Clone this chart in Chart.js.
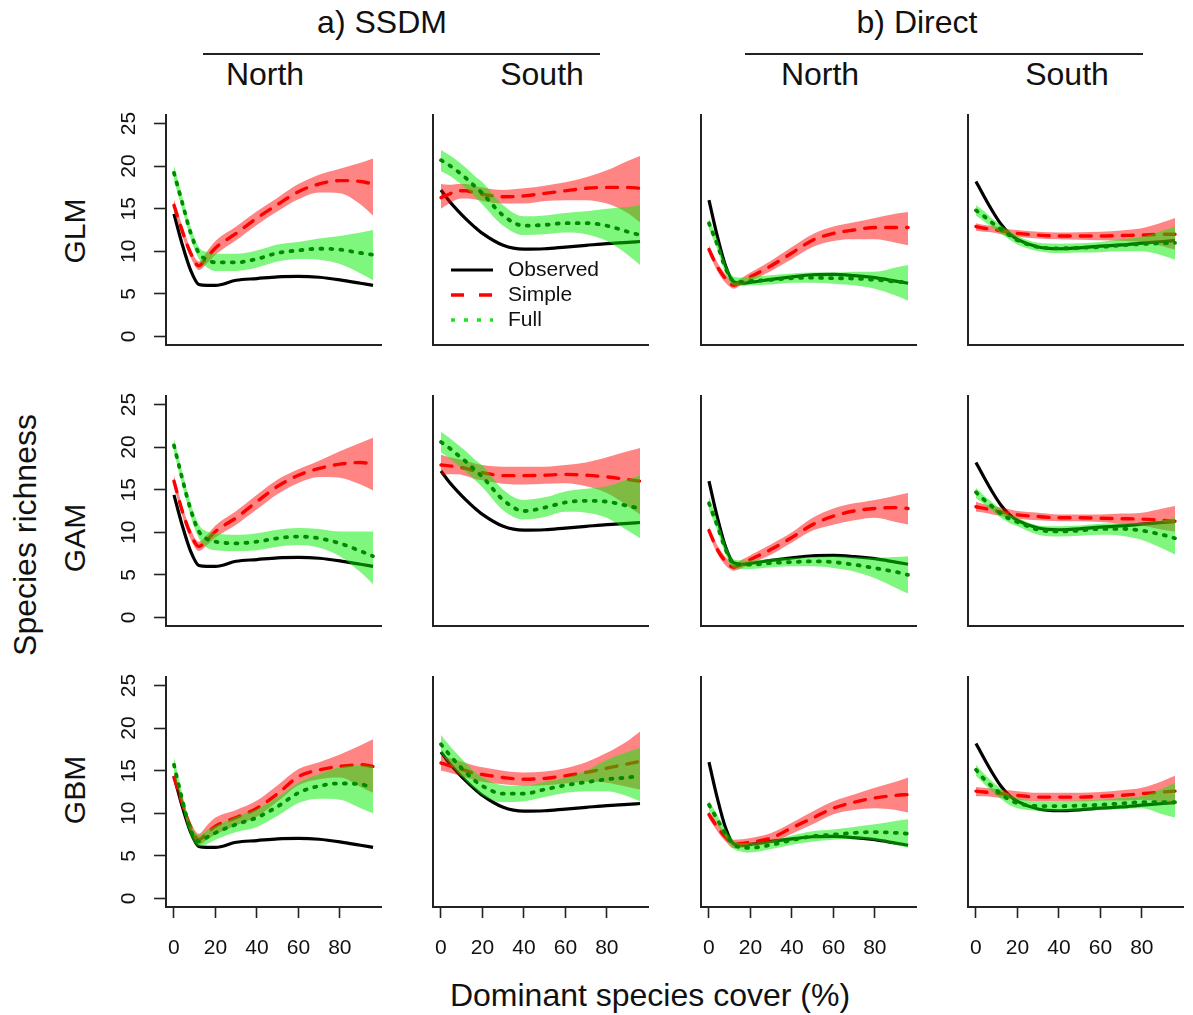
<!DOCTYPE html>
<html>
<head>
<meta charset="utf-8">
<script src="https://cdn.jsdelivr.net/npm/chart.js@4.4.0/dist/chart.umd.min.js"></script>
<style>
  body { margin: 0; background: #fff; }
  #wrap { position: relative; width: 1193px; height: 1015px; overflow: hidden;
          font-family: "Liberation Sans", Arial, sans-serif; color: #111; }
  #wrap canvas { position: absolute; }
  .t { position: absolute; white-space: nowrap; transform: translate(-50%, -50%); line-height: 1; }
  .rot { transform: translate(-50%, -50%) rotate(-90deg); }
  .rule { position: absolute; height: 0; border-top: 2px solid #222; }
</style>
</head>
<body>
<div id="wrap"></div>
<script>
// x positions (dominant species cover, %) shared by every curve
const cover = [0, 4, 8, 12, 16, 20, 30, 40, 50, 60, 70, 80, 90, 96];
const xTicks = [0, 20, 40, 60, 80];
const yTicks = [0, 5, 10, 15, 20, 25];
const models = ['GLM', 'GAM', 'GBM'];
const regions = ['North', 'South', 'North', 'South'];
const groups = ['a) SSDM', 'b) Direct'];
const seriesNames = ['Observed', 'Simple', 'Full'];

// observed richness, one per column
const obsSsdmNorth = [14.4, 10.8, 7.8, 6.1, 6.0, 6.0, 6.6, 6.8, 7.0, 7.05, 6.95, 6.65, 6.25, 6.0];
const obsSsdmSouth = [17.2, 15.9, 14.8, 13.8, 12.9, 12.1, 10.7, 10.25, 10.3, 10.5, 10.7, 10.9, 11.05, 11.15];
const obsDirectNorth = [16.0, 11.8, 8.3, 6.4, 6.25, 6.35, 6.7, 7.0, 7.25, 7.3, 7.15, 6.9, 6.5, 6.25];
const obsDirectSouth = [18.2, 16.4, 14.7, 13.2, 12.1, 11.4, 10.5, 10.3, 10.4, 10.6, 10.75, 10.95, 11.15, 11.25];

// GLM
const glmSsdmNorthSimple = [15.4, 12.4, 9.8, 8.3, 9.3, 10.4, 12.1, 13.9, 15.5, 17.0, 17.9, 18.3, 18.2, 17.9];
const glmSsdmNorthSimpleLo = [14.7, 11.8, 9.3, 7.8, 8.6, 9.6, 11.3, 13.1, 14.7, 16.1, 16.9, 16.8, 15.5, 14.2];
const glmSsdmNorthSimpleHi = [16.1, 13.0, 10.3, 8.8, 10.0, 11.2, 12.9, 14.7, 16.3, 17.9, 19.0, 19.7, 20.4, 20.9];
const glmSsdmNorthFull = [19.2, 15.7, 12.2, 9.8, 9.0, 8.7, 8.7, 9.1, 9.8, 10.1, 10.3, 10.2, 9.8, 9.6];
const glmSsdmNorthFullLo = [18.3, 14.9, 11.5, 9.1, 8.1, 7.7, 7.7, 8.1, 8.8, 9.1, 9.0, 8.5, 7.4, 6.6];
const glmSsdmNorthFullHi = [20.1, 16.5, 12.9, 10.5, 9.9, 9.7, 9.7, 10.1, 10.8, 11.1, 11.5, 11.8, 12.2, 12.5];

const glmSsdmSouthSimple = [16.3, 16.7, 17.1, 17.1, 16.9, 16.7, 16.4, 16.5, 16.8, 17.1, 17.4, 17.5, 17.5, 17.4];
const glmSsdmSouthSimpleLo = [15.0, 15.6, 16.1, 16.2, 16.1, 15.9, 15.6, 15.6, 15.9, 16.0, 16.0, 15.6, 14.5, 13.4];
const glmSsdmSouthSimpleHi = [17.9, 17.8, 17.9, 17.9, 17.7, 17.5, 17.2, 17.4, 17.7, 18.1, 18.7, 19.5, 20.6, 21.2];
const glmSsdmSouthFull = [20.7, 20.1, 19.4, 18.6, 17.7, 16.8, 14.2, 13.0, 13.1, 13.3, 13.3, 13.0, 12.3, 11.9];
const glmSsdmSouthFullLo = [19.4, 18.9, 18.2, 17.4, 16.5, 15.5, 13.0, 11.9, 12.0, 12.2, 12.0, 11.2, 9.6, 8.4];
const glmSsdmSouthFullHi = [21.9, 21.3, 20.6, 19.8, 18.9, 18.1, 15.4, 14.1, 14.2, 14.5, 14.7, 15.0, 15.2, 15.4];

const glmDirectNorthSimple = [10.2, 8.2, 6.8, 6.0, 6.5, 7.0, 8.3, 9.8, 11.3, 12.1, 12.5, 12.8, 12.8, 12.8];
const glmDirectNorthSimpleLo = [9.7, 7.7, 6.3, 5.6, 6.1, 6.5, 7.7, 9.1, 10.5, 11.2, 11.4, 11.4, 11.0, 10.7];
const glmDirectNorthSimpleHi = [10.7, 8.7, 7.3, 6.4, 6.9, 7.5, 8.9, 10.5, 12.0, 12.9, 13.4, 13.9, 14.4, 14.6];
const glmDirectNorthFull = [13.3, 10.8, 8.0, 6.5, 6.4, 6.5, 6.65, 6.85, 6.9, 6.85, 6.8, 6.65, 6.45, 6.35];
const glmDirectNorthFullLo = [12.6, 10.2, 7.4, 6.0, 5.9, 6.0, 6.1, 6.3, 6.3, 6.2, 6.0, 5.6, 4.8, 4.2];
const glmDirectNorthFullHi = [13.9, 11.4, 8.6, 7.0, 6.9, 7.0, 7.2, 7.4, 7.5, 7.5, 7.6, 7.6, 8.1, 8.4];

const glmDirectSouthSimple = [12.9, 12.7, 12.6, 12.4, 12.2, 12.1, 11.9, 11.8, 11.8, 11.8, 11.85, 11.9, 12.0, 12.0];
const glmDirectSouthSimpleLo = [12.4, 12.3, 12.2, 12.0, 11.8, 11.7, 11.5, 11.4, 11.35, 11.3, 11.25, 11.1, 10.6, 10.2];
const glmDirectSouthSimpleHi = [13.3, 13.1, 13.0, 12.8, 12.6, 12.5, 12.3, 12.2, 12.25, 12.3, 12.45, 12.7, 13.4, 13.9];
const glmDirectSouthFull = [14.8, 14.1, 13.3, 12.6, 11.9, 11.3, 10.5, 10.35, 10.4, 10.5, 10.7, 10.85, 10.95, 11.0];
const glmDirectSouthFullLo = [14.2, 13.5, 12.8, 12.1, 11.4, 10.8, 10.0, 9.8, 9.85, 9.9, 10.0, 10.0, 9.5, 9.0];
const glmDirectSouthFullHi = [15.4, 14.7, 13.8, 13.1, 12.4, 11.8, 11.0, 10.9, 10.95, 11.1, 11.4, 11.7, 12.4, 12.9];

// GAM
const gamSsdmNorthSimple = [16.0, 12.5, 9.8, 8.35, 9.1, 10.1, 11.7, 13.6, 15.4, 16.7, 17.5, 18.0, 18.2, 18.0];
const gamSsdmNorthSimpleLo = [15.3, 11.9, 9.2, 7.8, 8.5, 9.4, 10.9, 12.7, 14.5, 15.8, 16.5, 16.4, 15.6, 14.9];
const gamSsdmNorthSimpleHi = [16.7, 13.1, 10.4, 8.9, 9.7, 10.8, 12.5, 14.4, 16.2, 17.4, 18.4, 19.5, 20.5, 21.1];
const gamSsdmNorthFull = [20.2, 16.3, 12.7, 10.1, 9.2, 8.9, 8.7, 8.9, 9.3, 9.5, 9.3, 8.7, 7.8, 7.2];
const gamSsdmNorthFullLo = [19.4, 15.5, 11.9, 9.3, 8.2, 7.9, 7.8, 7.9, 8.3, 8.5, 8.2, 7.2, 5.3, 3.9];
const gamSsdmNorthFullHi = [21.0, 17.1, 13.5, 10.9, 10.1, 9.9, 9.7, 9.9, 10.3, 10.5, 10.4, 10.1, 10.1, 10.1];

const gamSsdmSouthSimple = [17.9, 17.8, 17.7, 17.5, 17.2, 17.0, 16.65, 16.65, 16.7, 16.8, 16.7, 16.5, 16.2, 16.0];
const gamSsdmSouthSimpleLo = [16.7, 16.8, 16.8, 16.6, 16.3, 16.1, 15.7, 15.6, 15.7, 15.75, 15.4, 14.6, 13.1, 12.1];
const gamSsdmSouthSimpleHi = [19.1, 18.8, 18.6, 18.4, 18.1, 17.9, 17.7, 17.7, 17.7, 17.9, 18.2, 18.8, 19.5, 19.9];
const gamSsdmSouthFull = [20.6, 19.9, 19.1, 18.3, 17.4, 16.5, 13.8, 12.5, 12.9, 13.5, 13.7, 13.6, 13.1, 12.8];
const gamSsdmSouthFullLo = [19.4, 18.7, 17.9, 17.1, 16.2, 15.3, 12.6, 11.5, 11.8, 12.4, 12.3, 11.7, 10.2, 9.3];
const gamSsdmSouthFullHi = [21.8, 21.1, 20.3, 19.5, 18.6, 17.8, 15.0, 13.8, 14.1, 14.8, 15.1, 15.4, 16.2, 16.7];

const gamDirectNorthSimple = [10.2, 8.0, 6.6, 5.9, 6.3, 6.8, 8.0, 9.4, 10.9, 11.9, 12.5, 12.8, 12.9, 12.8];
const gamDirectNorthSimpleLo = [9.7, 7.5, 6.1, 5.5, 5.8, 6.3, 7.4, 8.8, 10.2, 10.9, 11.4, 11.7, 11.2, 10.9];
const gamDirectNorthSimpleHi = [10.7, 8.5, 7.1, 6.3, 6.8, 7.3, 8.6, 10.0, 11.7, 12.8, 13.4, 13.8, 14.3, 14.6];
const gamDirectNorthFull = [13.4, 10.8, 8.0, 6.3, 6.2, 6.2, 6.4, 6.5, 6.6, 6.5, 6.2, 5.8, 5.35, 5.0];
const gamDirectNorthFullLo = [12.6, 10.2, 7.4, 5.8, 5.7, 5.7, 5.9, 6.0, 6.0, 5.8, 5.4, 4.6, 3.5, 2.8];
const gamDirectNorthFullHi = [14.2, 11.4, 8.6, 6.8, 6.7, 6.7, 6.9, 7.0, 7.1, 7.2, 7.1, 7.0, 7.1, 7.2];

const gamDirectSouthSimple = [13.0, 12.8, 12.6, 12.4, 12.2, 12.05, 11.85, 11.7, 11.7, 11.65, 11.6, 11.55, 11.4, 11.3];
const gamDirectSouthSimpleLo = [12.4, 12.3, 12.1, 11.9, 11.7, 11.6, 11.4, 11.3, 11.3, 11.2, 11.0, 10.8, 10.3, 10.1];
const gamDirectSouthSimpleHi = [13.6, 13.3, 13.1, 12.9, 12.7, 12.5, 12.3, 12.1, 12.1, 12.1, 12.2, 12.3, 12.8, 13.1];
const gamDirectSouthFull = [14.7, 13.8, 13.0, 12.2, 11.6, 11.2, 10.3, 10.1, 10.2, 10.4, 10.4, 10.2, 9.7, 9.3];
const gamDirectSouthFullLo = [14.0, 13.3, 12.5, 11.7, 11.1, 10.7, 9.7, 9.5, 9.6, 9.7, 9.6, 9.1, 8.1, 7.4];
const gamDirectSouthFullHi = [15.2, 14.3, 13.5, 12.7, 12.1, 11.7, 10.8, 10.7, 10.8, 11.0, 11.1, 11.1, 11.4, 11.7];

// GBM
const gbmSsdmNorthSimple = [14.2, 11.2, 8.4, 6.9, 7.7, 8.5, 9.5, 10.6, 12.3, 14.3, 15.1, 15.5, 15.7, 15.5];
const gbmSsdmNorthSimpleLo = [13.6, 10.6, 7.8, 6.3, 6.9, 7.5, 8.6, 9.6, 11.4, 13.3, 14.0, 14.2, 13.1, 12.4];
const gbmSsdmNorthSimpleHi = [14.8, 11.8, 9.0, 7.6, 8.6, 9.5, 10.4, 11.5, 13.3, 15.2, 16.0, 16.9, 18.0, 18.7];
const gbmSsdmNorthFull = [15.7, 11.6, 8.1, 6.7, 7.2, 7.7, 8.7, 9.5, 10.8, 12.4, 13.2, 13.5, 13.4, 13.0];
const gbmSsdmNorthFullLo = [14.8, 10.9, 7.4, 6.1, 6.4, 6.9, 7.8, 8.4, 9.7, 11.2, 11.7, 11.6, 10.6, 10.0];
const gbmSsdmNorthFullHi = [16.6, 12.3, 8.8, 7.4, 8.0, 8.5, 9.6, 10.5, 11.9, 13.6, 14.6, 15.4, 15.6, 15.5];

const gbmSsdmSouthSimple = [15.9, 15.6, 15.3, 15.0, 14.7, 14.55, 14.2, 14.0, 14.1, 14.4, 14.8, 15.3, 15.8, 16.1];
const gbmSsdmSouthSimpleLo = [15.0, 14.8, 14.5, 14.2, 13.9, 13.7, 13.4, 13.2, 13.3, 13.5, 13.7, 13.6, 13.1, 12.8];
const gbmSsdmSouthSimpleHi = [16.8, 16.5, 16.2, 15.9, 15.6, 15.4, 15.0, 14.8, 14.9, 15.3, 16.0, 17.1, 18.5, 19.6];
const gbmSsdmSouthFull = [18.1, 16.9, 15.8, 14.8, 13.9, 13.2, 12.3, 12.3, 12.8, 13.3, 13.65, 14.0, 14.2, 14.4];
const gbmSsdmSouthFullLo = [17.0, 15.9, 14.8, 13.8, 12.9, 12.1, 11.3, 11.4, 11.9, 12.4, 12.6, 12.6, 12.0, 11.4];
const gbmSsdmSouthFullHi = [19.2, 18.0, 16.9, 15.9, 14.9, 14.2, 13.3, 13.2, 13.7, 14.2, 15.0, 16.3, 17.2, 17.7];

const gbmDirectNorthSimple = [9.85, 8.4, 7.2, 6.4, 6.45, 6.6, 7.1, 8.3, 9.45, 10.6, 11.3, 11.8, 12.1, 12.2];
const gbmDirectNorthSimpleLo = [9.4, 7.9, 6.7, 5.9, 5.95, 6.1, 6.5, 7.6, 8.7, 9.9, 10.4, 10.6, 10.4, 10.1];
const gbmDirectNorthSimpleHi = [10.3, 8.9, 7.7, 6.9, 6.95, 7.1, 7.7, 8.9, 10.2, 11.4, 12.2, 13.0, 13.7, 14.2];
const gbmDirectNorthFull = [11.0, 9.3, 7.6, 6.3, 6.0, 5.95, 6.3, 6.85, 7.3, 7.5, 7.7, 7.8, 7.7, 7.6];
const gbmDirectNorthFullLo = [10.4, 8.8, 7.1, 5.8, 5.5, 5.4, 5.8, 6.3, 6.7, 6.9, 7.0, 6.8, 6.3, 5.95];
const gbmDirectNorthFullHi = [11.5, 9.8, 8.1, 6.8, 6.5, 6.5, 6.8, 7.4, 7.9, 8.1, 8.4, 8.7, 9.1, 9.3];

const gbmDirectSouthSimple = [12.6, 12.5, 12.4, 12.3, 12.2, 12.1, 11.9, 11.9, 11.9, 12.0, 12.1, 12.3, 12.5, 12.6];
const gbmDirectSouthSimpleLo = [12.0, 12.0, 11.9, 11.8, 11.7, 11.6, 11.4, 11.4, 11.4, 11.5, 11.5, 11.6, 11.3, 11.0];
const gbmDirectSouthSimpleHi = [13.1, 13.0, 12.9, 12.8, 12.7, 12.6, 12.4, 12.4, 12.4, 12.5, 12.7, 13.0, 13.8, 14.4];
const gbmDirectSouthFull = [15.1, 14.0, 13.1, 12.3, 11.6, 11.2, 10.85, 10.85, 10.9, 11.0, 11.15, 11.3, 11.3, 11.3];
const gbmDirectSouthFullLo = [14.4, 13.4, 12.5, 11.7, 11.0, 10.6, 10.3, 10.25, 10.3, 10.4, 10.5, 10.6, 9.9, 9.5];
const gbmDirectSouthFullHi = [15.7, 14.6, 13.7, 12.9, 12.2, 11.8, 11.4, 11.4, 11.5, 11.6, 11.8, 12.0, 12.9, 13.6];

// ---- layout ----
const family = '"Liberation Sans", Arial, sans-serif';
const colLeft = [166, 433, 701, 968];
const rowTop = [115, 396, 677];
const boxW = 215, boxH = 230;

const wrap = document.getElementById('wrap');

function addText(txt, x, y, size, rotated) {
    const el = document.createElement('div');
    el.className = rotated ? 't rot' : 't';
    el.textContent = txt;
    el.style.left = x + 'px';
    el.style.top = y + 'px';
    el.style.fontSize = size + 'px';
    wrap.appendChild(el);
}

function addRule(x1, x2, y) {
    const el = document.createElement('div');
    el.className = 'rule';
    el.style.left = x1 + 'px';
    el.style.width = (x2 - x1) + 'px';
    el.style.top = y + 'px';
    wrap.appendChild(el);
}

const pts = arr => cover.map((x, i) => ({ x: x, y: arr[i] }));

// rotated y tick labels, as R draws them
const yTickLabels = {
    id: 'yTickLabels',
    afterDraw(chart, args, opts) {
        if (!opts.show) return;
        const { ctx, chartArea } = chart;
        const y = chart.scales.y;
        ctx.save();
        ctx.font = '21px ' + family;
        ctx.fillStyle = '#111';
        ctx.textAlign = 'center';
        ctx.textBaseline = 'middle';
        y.ticks.forEach(t => {
            ctx.save();
            ctx.translate(chartArea.left - 37, y.getPixelForValue(t.value));
            ctx.rotate(-Math.PI / 2);
            ctx.fillText(String(t.value), 0, 0);
            ctx.restore();
        });
        ctx.restore();
    }
};

// legend drawn inside one panel
const panelLegend = {
    id: 'panelLegend',
    afterDraw(chart, args, opts) {
        if (!opts.show) return;
        const { ctx, chartArea } = chart;
        const styles = [
            { color: '#000', dash: [], cap: 'butt', width: 3 },
            { color: '#ff0000', dash: [13, 15], cap: 'butt', width: 3.5 },
            { color: '#22e022', dash: [4, 9], cap: 'butt', width: 3.5 }
        ];
        ctx.save();
        ctx.font = '21px ' + family;
        ctx.textBaseline = 'middle';
        seriesNames.forEach((name, i) => {
            const yy = chartArea.top + 155 + i * 25;
            const s = styles[i];
            ctx.beginPath();
            ctx.strokeStyle = s.color;
            ctx.lineWidth = s.width;
            ctx.lineCap = s.cap;
            ctx.setLineDash(s.dash);
            ctx.moveTo(chartArea.left + 18, yy);
            ctx.lineTo(chartArea.left + 60, yy);
            ctx.stroke();
            ctx.setLineDash([]);
            ctx.fillStyle = '#111';
            ctx.fillText(name, chartArea.left + 75, yy);
        });
        ctx.restore();
    }
};

function drawPanel(row, col, obs, s, sLo, sHi, f, fLo, fHi) {
    const L = col === 0 ? 70 : 30;
    const B = row === 2 ? 62 : 8;
    const T = 6, R = 12;
    const w = L + boxW + R, h = T + boxH + B;
    const canvas = document.createElement('canvas');
    canvas.width = w;
    canvas.height = h;
    canvas.style.left = (colLeft[col] - L) + 'px';
    canvas.style.top = (rowTop[row] - T) + 'px';
    canvas.style.width = w + 'px';
    canvas.style.height = h + 'px';
    wrap.appendChild(canvas);

    const common = { pointRadius: 0, pointHoverRadius: 0, cubicInterpolationMode: 'monotone' };

    const datasets = [
        { ...common, label: 'Observed', data: pts(obs), borderColor: '#000', borderWidth: 3.2, fill: false, order: 5 },
        { ...common, label: 'Simple lower', data: pts(sLo), borderWidth: 0, borderColor: 'rgba(0,0,0,0)', fill: false, order: 4 },
        { ...common, label: 'Simple upper', data: pts(sHi), borderWidth: 0, borderColor: 'rgba(0,0,0,0)',
          backgroundColor: 'rgba(255,0,0,0.48)', fill: 1, order: 4 },
        { ...common, label: 'Simple', data: pts(s), borderColor: '#ff0000', borderWidth: 3.4,
          borderDash: [11, 10], borderCapStyle: 'round', fill: false, order: 3 },
        { ...common, label: 'Full lower', data: pts(fLo), borderWidth: 0, borderColor: 'rgba(0,0,0,0)', fill: false, order: 2 },
        { ...common, label: 'Full upper', data: pts(fHi), borderWidth: 0, borderColor: 'rgba(0,0,0,0)',
          backgroundColor: 'rgba(0,240,0,0.5)', fill: 4, order: 2 },
        { ...common, label: 'Full', data: pts(f), borderColor: '#008a00', borderWidth: 3.8,
          borderDash: [2, 8], borderCapStyle: 'round', fill: false, order: 1 }
    ];

    new Chart(canvas, {
        type: 'line',
        data: { datasets: datasets },
        plugins: [yTickLabels, panelLegend],
        options: {
            responsive: false,
            animation: false,
            devicePixelRatio: 1,
            layout: { padding: { top: T, right: R, left: 0, bottom: 0 } },
            plugins: {
                legend: { display: false },
                tooltip: { enabled: false },
                yTickLabels: { show: col === 0 },
                panelLegend: { show: row === 0 && col === 1 }
            },
            scales: {
                x: {
                    type: 'linear',
                    min: -3.84,
                    max: 99.84,
                    afterBuildTicks: sc => { sc.ticks = xTicks.map(v => ({ value: v })); },
                    afterFit: sc => { sc.height = B; },
                    grid: { display: row === 2, drawOnChartArea: false, drawTicks: true,
                            tickLength: 11, tickColor: '#222', tickWidth: 1.6 },
                    border: { display: true, color: '#222', width: 2 },
                    ticks: { display: row === 2, color: '#111', maxRotation: 0,
                             font: { size: 21, family: family }, padding: 18 }
                },
                y: {
                    type: 'linear',
                    min: -1,
                    max: 26,
                    afterBuildTicks: sc => { sc.ticks = yTicks.map(v => ({ value: v })); },
                    afterFit: sc => { sc.width = L; },
                    grid: { display: col === 0, drawOnChartArea: false, drawTicks: true,
                            tickLength: 12, tickColor: '#222', tickWidth: 1.6 },
                    border: { display: true, color: '#222', width: 2 },
                    ticks: { display: false }
                }
            }
        }
    });
}

drawPanel(0, 0, obsSsdmNorth, glmSsdmNorthSimple, glmSsdmNorthSimpleLo, glmSsdmNorthSimpleHi, glmSsdmNorthFull, glmSsdmNorthFullLo, glmSsdmNorthFullHi);
drawPanel(0, 1, obsSsdmSouth, glmSsdmSouthSimple, glmSsdmSouthSimpleLo, glmSsdmSouthSimpleHi, glmSsdmSouthFull, glmSsdmSouthFullLo, glmSsdmSouthFullHi);
drawPanel(0, 2, obsDirectNorth, glmDirectNorthSimple, glmDirectNorthSimpleLo, glmDirectNorthSimpleHi, glmDirectNorthFull, glmDirectNorthFullLo, glmDirectNorthFullHi);
drawPanel(0, 3, obsDirectSouth, glmDirectSouthSimple, glmDirectSouthSimpleLo, glmDirectSouthSimpleHi, glmDirectSouthFull, glmDirectSouthFullLo, glmDirectSouthFullHi);

drawPanel(1, 0, obsSsdmNorth, gamSsdmNorthSimple, gamSsdmNorthSimpleLo, gamSsdmNorthSimpleHi, gamSsdmNorthFull, gamSsdmNorthFullLo, gamSsdmNorthFullHi);
drawPanel(1, 1, obsSsdmSouth, gamSsdmSouthSimple, gamSsdmSouthSimpleLo, gamSsdmSouthSimpleHi, gamSsdmSouthFull, gamSsdmSouthFullLo, gamSsdmSouthFullHi);
drawPanel(1, 2, obsDirectNorth, gamDirectNorthSimple, gamDirectNorthSimpleLo, gamDirectNorthSimpleHi, gamDirectNorthFull, gamDirectNorthFullLo, gamDirectNorthFullHi);
drawPanel(1, 3, obsDirectSouth, gamDirectSouthSimple, gamDirectSouthSimpleLo, gamDirectSouthSimpleHi, gamDirectSouthFull, gamDirectSouthFullLo, gamDirectSouthFullHi);

drawPanel(2, 0, obsSsdmNorth, gbmSsdmNorthSimple, gbmSsdmNorthSimpleLo, gbmSsdmNorthSimpleHi, gbmSsdmNorthFull, gbmSsdmNorthFullLo, gbmSsdmNorthFullHi);
drawPanel(2, 1, obsSsdmSouth, gbmSsdmSouthSimple, gbmSsdmSouthSimpleLo, gbmSsdmSouthSimpleHi, gbmSsdmSouthFull, gbmSsdmSouthFullLo, gbmSsdmSouthFullHi);
drawPanel(2, 2, obsDirectNorth, gbmDirectNorthSimple, gbmDirectNorthSimpleLo, gbmDirectNorthSimpleHi, gbmDirectNorthFull, gbmDirectNorthFullLo, gbmDirectNorthFullHi);
drawPanel(2, 3, obsDirectSouth, gbmDirectSouthSimple, gbmDirectSouthSimpleLo, gbmDirectSouthSimpleHi, gbmDirectSouthFull, gbmDirectSouthFullLo, gbmDirectSouthFullHi);

// ---- titles and labels ----
addText(groups[0], 382, 22, 32, false);
addText(groups[1], 917, 22, 32, false);
addRule(203, 600, 53);
addRule(745, 1143, 53);
[265, 542, 820, 1067].forEach((x, i) => addText(regions[i], x, 74, 32, false));
addText(models[0], 75, 231, 30, true);
addText(models[1], 75, 538, 30, true);
addText(models[2], 75, 790, 30, true);
addText('Species richness', 25, 535, 32, true);
addText('Dominant species cover (%)', 650, 995, 32, false);
</script>
</body>
</html>
